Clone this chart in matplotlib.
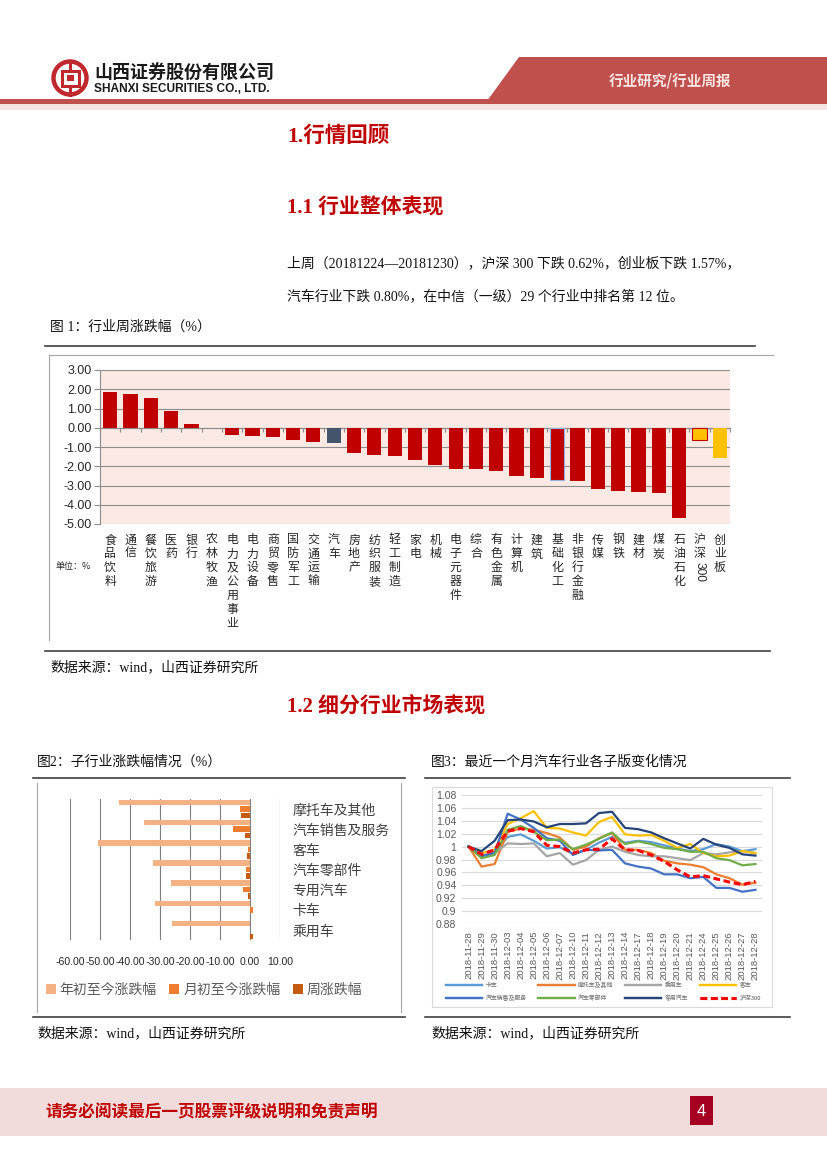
import matplotlib
matplotlib.use('Agg')
import matplotlib.pyplot as plt
import numpy as np
from matplotlib.patches import Rectangle, Polygon, Circle
import matplotlib.transforms as mtransforms

plt.rcParams['font.family'] = ['Noto Sans CJK SC', 'DejaVu Sans']

# ---------------- data ----------------
industries = ['食品饮料', '通信', '餐饮旅游', '医药', '银行', '农林牧渔', '电力及公用事业', '电力设备',
              '商贸零售', '国防军工', '交通运输', '汽车', '房地产', '纺织服装', '轻工制造', '家电',
              '机械', '电子元器件', '综合', '有色金属', '计算机', '建筑', '基础化工', '非银行金融',
              '传媒', '钢铁', '建材', '煤炭', '石油石化', '沪深300', '创业板']
weekly_change = [1.87, 1.75, 1.56, 0.85, 0.22, 0.01, -0.38, -0.43,
                 -0.49, -0.62, -0.75, -0.80, -1.33, -1.41, -1.45, -1.67,
                 -1.96, -2.13, -2.16, -2.26, -2.49, -2.61, -2.71, -2.77,
                 -3.20, -3.29, -3.34, -3.39, -4.69, -0.62, -1.57]
fig1_yticks = [3, 2, 1, 0, -1, -2, -3, -4, -5]

sub_industries = ['摩托车及其他', '汽车销售及服务', '客车', '汽车零部件', '专用汽车', '卡车', '乘用车']
ytd_change = [-43.6, -35.3, -50.7, -32.2, -26.3, -31.6, -26.0]
mtd_change = [-3.4, -5.7, -0.6, -1.3, -2.3, 0.9, 0.05]
week_change = [-3.1, -1.7, -1.1, -1.3, -0.6, 0.05, 0.9]
fig2_xticks = [-60, -50, -40, -30, -20, -10, 0, 10]
fig2_series_names = ['年初至今涨跌幅', '月初至今涨跌幅', '周涨跌幅']

dates = ['2018-11-28', '2018-11-29', '2018-11-30', '2018-12-03', '2018-12-04', '2018-12-05',
         '2018-12-06', '2018-12-07', '2018-12-10', '2018-12-11', '2018-12-12', '2018-12-13',
         '2018-12-14', '2018-12-17', '2018-12-18', '2018-12-19', '2018-12-20', '2018-12-21',
         '2018-12-24', '2018-12-25', '2018-12-26', '2018-12-27', '2018-12-28']
truck = [1.000, 0.986, 0.991, 1.015, 1.019, 1.009, 0.997, 0.999, 0.989, 0.995, 1.006, 1.015,
         1.006, 1.009, 1.007, 1.002, 0.997, 0.993, 0.996, 1.004, 1.000, 0.993, 0.996]
motorcycle = [1.000, 0.969, 0.973, 1.023, 1.028, 1.026, 1.021, 1.014, 0.995, 1.000, 1.013, 1.021,
              0.995, 0.995, 0.990, 0.978, 0.974, 0.972, 0.968, 0.957, 0.951, 0.941, 0.944]
passenger = [1.000, 0.986, 0.990, 1.005, 1.004, 1.005, 0.985, 0.990, 0.972, 0.979, 0.995, 1.000,
             0.992, 0.987, 0.985, 0.985, 0.982, 0.979, 0.990, 0.988, 0.991, 0.993, 0.990]
bus = [1.000, 0.990, 0.995, 1.035, 1.044, 1.055, 1.029, 1.028, 1.022, 1.017, 1.038, 1.046,
       1.019, 1.017, 1.018, 1.009, 0.998, 1.004, 0.990, 0.985, 0.986, 0.993, 0.990]
auto_sales = [1.000, 0.985, 0.990, 1.051, 1.042, 1.029, 1.013, 1.009, 0.987, 0.995, 0.994, 0.995,
              0.974, 0.969, 0.966, 0.957, 0.957, 0.951, 0.953, 0.936, 0.936, 0.930, 0.933]
auto_parts = [1.000, 0.982, 0.987, 1.026, 1.032, 1.023, 1.010, 1.011, 0.996, 1.003, 1.012, 1.022,
              1.004, 1.008, 1.004, 0.998, 0.996, 0.992, 0.992, 0.982, 0.979, 0.971, 0.973]
special_vehicle = [1.000, 0.993, 1.009, 1.041, 1.042, 1.039, 1.030, 1.035, 1.035, 1.036, 1.052, 1.054,
                   1.029, 1.027, 1.022, 1.013, 1.005, 0.997, 1.012, 1.003, 0.998, 0.988, 0.986]
hs300 = [1.000, 0.988, 0.995, 1.024, 1.028, 1.023, 1.002, 1.000, 0.990, 0.995, 0.996, 1.012,
         0.995, 0.994, 0.987, 0.977, 0.964, 0.953, 0.955, 0.950, 0.945, 0.941, 0.946]
fig3_yticks = [0.88, 0.90, 0.92, 0.94, 0.96, 0.98, 1.00, 1.02, 1.04, 1.06, 1.08]

# ---------------- page ----------------
W, H = 827, 1169
fig = plt.figure(figsize=(W / 100, H / 100), dpi=100)
fig.patch.set_facecolor('white')


def box(x0, y0, x1, y1):
    return [x0 / W, 1 - y1 / H, (x1 - x0) / W, (y1 - y0) / H]


bg = fig.add_axes([0, 0, 1, 1])
bg.set_xlim(0, W)
bg.set_ylim(H, 0)
bg.axis('off')

RED = '#c00000'
SERIF = ['Liberation Serif', 'Noto Sans CJK SC']
SANS = ['Liberation Sans', 'Noto Sans CJK SC']

# header
bg.add_patch(Polygon([(487, 101), (519, 57), (827, 57), (827, 101)], closed=True,
                     fc='#c0504d', ec='none'))
bg.add_patch(Rectangle((0, 99), W, 5, fc='#c0504d', ec='none'))
bg.add_patch(Rectangle((0, 104), W, 6, fc='#f3e4e4', ec='none'))
bg.text(670, 80, '行业研究/行业周报', color='#fbe6e3', fontsize=10.5, fontweight='bold',
        ha='center', va='center')
# logo
bg.add_patch(Circle((70, 78), 16.5, fc='none', ec='#c0282d', lw=3.2))
bg.add_patch(Rectangle((61.5, 70.5), 17, 15, fc='none', ec='#c0282d', lw=2.2))
bg.add_patch(Rectangle((66.5, 75), 7, 6, fc='#c0282d', ec='none'))
bg.plot([70, 70], [61, 70.5], color='#c0282d', lw=2.2)
bg.plot([70, 70], [85.5, 95], color='#c0282d', lw=2.2)
bg.text(94, 73, '山西证券股份有限公司', fontsize=13, fontweight='bold', color='#1a1a1a',
        ha='left', va='center')
bg.text(94, 89, 'SHANXI SECURITIES CO., LTD.', fontsize=8.6, fontweight='bold', color='#1a1a1a',
        ha='left', va='center', family=['Liberation Sans', 'DejaVu Sans'])

# section titles and paragraph
bg.text(287, 137, '1.行情回顾', color=RED, fontsize=15.5, fontweight='bold', family=SERIF,
        ha='left', va='center')
bg.text(287, 208, '1.1 行业整体表现', color=RED, fontsize=15, fontweight='bold', family=SERIF,
        ha='left', va='center')
bg.text(287, 263, '上周（20181224—20181230），沪深 300 下跌 0.62%，创业板下跌 1.57%，',
        fontsize=10, family=SERIF, ha='left', va='center', color='#111111')
bg.text(287, 296, '汽车行业下跌 0.80%，在中信（一级）29 个行业中排名第 12 位。',
        fontsize=10, family=SERIF, ha='left', va='center', color='#111111')
bg.text(50, 327, '图 1：行业周涨跌幅（%）', fontsize=10, family=SERIF, ha='left', va='center',
        color='#111111')
bg.plot([45, 755], [346, 346], color='#404040', lw=1.2)
bg.plot([49, 773], [355, 355], color='#a6a6a6', lw=0.8)
bg.plot([49, 49], [355, 640], color='#a6a6a6', lw=0.8)
bg.plot([45, 770], [651, 651], color='#404040', lw=1.2)
bg.text(50, 667, '数据来源：wind，山西证券研究所', fontsize=10, family=SERIF, ha='left',
        va='center', color='#111111')
bg.text(287, 706, '1.2 细分行业市场表现', color=RED, fontsize=15, fontweight='bold', family=SERIF,
        ha='left', va='center')
bg.text(37, 762, '图2：子行业涨跌幅情况（%）', fontsize=10, family=SERIF, ha='left', va='center',
        color='#111111')
bg.text(431, 762, '图3：最近一个月汽车行业各子版变化情况', fontsize=10, family=SERIF, ha='left',
        va='center', color='#111111')
bg.plot([33, 405], [778, 778], color='#404040', lw=1.2)
bg.plot([425, 790], [778, 778], color='#404040', lw=1.2)
bg.plot([37, 37], [783, 1012], color='#a6a6a6', lw=0.8)
bg.plot([401, 401], [783, 1012], color='#a6a6a6', lw=0.8)
bg.add_patch(Rectangle((432, 787), 340, 220, fc='none', ec='#d9d9d9', lw=0.8))
bg.plot([33, 405], [1017, 1017], color='#404040', lw=1.2)
bg.plot([425, 790], [1017, 1017], color='#404040', lw=1.2)
bg.text(37, 1033, '数据来源：wind，山西证券研究所', fontsize=10, family=SERIF, ha='left',
        va='center', color='#111111')
bg.text(431, 1033, '数据来源：wind，山西证券研究所', fontsize=10, family=SERIF, ha='left',
        va='center', color='#111111')

# footer
bg.add_patch(Rectangle((0, 1088), W, 48, fc='#f2dcdb', ec='none'))
bg.text(45, 1112, '请务必阅读最后一页股票评级说明和免责声明', color=RED, fontsize=12,
        fontweight='bold', ha='left', va='center')
bg.add_patch(Rectangle((690, 1096), 23, 29, fc='#a50021', ec='none'))
bg.text(701.5, 1111, '4', color='white', fontsize=12, ha='center', va='center',
        family=['Liberation Sans'])

# ---------------- figure 1: weekly industry change ----------------
ax1 = fig.add_axes(box(100, 370, 730, 524))
ax1.set_facecolor('#fbe9e4')
x1 = np.arange(len(industries))
special = {'汽车': '#44546a', '沪深300': '#ffc000', '创业板': '#ffc000'}
colors1 = [special.get(c, RED) for c in industries]
edges1 = ['#c00000' if c == '沪深300' else ('#8eb4e3' if c == '基础化工' else 'none')
          for c in industries]
ax1.bar(x1, weekly_change, width=0.7, color=colors1, edgecolor=edges1, linewidth=0.8, zorder=3)
ax1.set_xlim(-0.5, len(industries) - 0.5)
ax1.set_ylim(-5, 3)
ax1.set_yticks(fig1_yticks)
ax1.set_yticklabels(['%.2f' % v for v in fig1_yticks], family=SANS, fontsize=9, color='#262626')
ax1.grid(axis='y', color='#8c8c8c', lw=0.8, zorder=1)
ax1.tick_params(axis='y', length=4, color='#8c8c8c', pad=2)
for s in ['top', 'right']:
    ax1.spines[s].set_visible(False)
ax1.spines['left'].set_color('#8c8c8c')
ax1.spines['left'].set_linewidth(0.8)
ax1.spines['bottom'].set_position(('data', 0))
ax1.spines['bottom'].set_color('#8c8c8c')
ax1.spines['bottom'].set_linewidth(0.8)
ax1.set_xticks(np.arange(-0.5, len(industries), 1.0))
ax1.set_xticklabels([])
ax1.tick_params(axis='x', length=3, color='#8c8c8c', direction='out')

blend1 = mtransforms.blended_transform_factory(ax1.transData, bg.transData)
for i, name in enumerate(industries):
    y = 540
    j = 0
    while j < len(name):
        ch = name[j]
        if ch.isascii():
            run = ''
            while j < len(name) and name[j].isascii():
                run += name[j]
                j += 1
            bg.text(i, y - 6, run, transform=blend1, rotation=-90, ha='center', va='top',
                    fontsize=8.6, color='#262626', family=SANS)
            y += 14 * len(run)
        else:
            bg.text(i, y, ch, transform=blend1, ha='center', va='center', fontsize=8.6,
                    color='#262626')
            y += 13.9
            j += 1
bg.text(73, 567, '单位：%', fontsize=6.5, color='#262626', ha='center', va='center')

# ---------------- figure 2: sub-industry change ----------------
ax2 = fig.add_axes(box(70, 799, 280, 940))
y2 = np.arange(len(sub_industries))
h = 0.27
c2 = ['#f4b183', '#ed7d31', '#c55a11']
b_ytd = ax2.barh(y2 - 0.32, ytd_change, height=h, color=c2[0], zorder=3)
b_mtd = ax2.barh(y2, mtd_change, height=h, color=c2[1], zorder=3)
b_wk = ax2.barh(y2 + 0.32, week_change, height=h, color=c2[2], zorder=3)
ax2.set_xlim(-60, 10)
ax2.set_ylim(len(sub_industries) - 0.5, -0.5)
ax2.set_xticks(fig2_xticks)
ax2.set_xticklabels(['%.2f' % v for v in fig2_xticks], family=SANS, fontsize=7.6, color='#262626')
ax2.tick_params(axis='x', length=0, pad=12)
ax2.grid(axis='x', color='#7f7f7f', lw=0.8, zorder=1)
ax2.yaxis.tick_right()
ax2.set_yticks(y2)
ax2.set_yticklabels(sub_industries, fontsize=10, color='#404040')
ax2.tick_params(axis='y', length=0, pad=9)
for s in ax2.spines.values():
    s.set_visible(False)
leg2 = bg.legend([b_ytd, b_mtd, b_wk], fig2_series_names, loc='center',
                 bbox_to_anchor=(204, 990), bbox_transform=bg.transData, ncol=3,
                 frameon=False, fontsize=10, handlelength=0.7, handleheight=0.7,
                 handletextpad=0.3, columnspacing=0.9, borderpad=0)
for t in leg2.get_texts():
    t.set_color('#595959')
bg.add_artist(leg2)

# ---------------- figure 3: sub-index lines ----------------
ax3 = fig.add_axes(box(462, 795, 762, 924))
x3 = np.arange(len(dates))
series3 = [
    ('卡车', truck, '#5b9bd5', '-'),
    ('摩托车及其他', motorcycle, '#ed7d31', '-'),
    ('乘用车', passenger, '#a5a5a5', '-'),
    ('客车', bus, '#ffc000', '-'),
    ('汽车销售及服务', auto_sales, '#4472c4', '-'),
    ('汽车零部件', auto_parts, '#70ad47', '-'),
    ('专用汽车', special_vehicle, '#264478', '-'),
    ('沪深300', hs300, '#ff0000', '--'),
]
handles = {}
for name, vals, col, ls in series3:
    if ls == '--':
        ln, = ax3.plot(x3, vals, color=col, lw=2.2, ls=(0, (2.2, 1.2)), zorder=5)
    else:
        ln, = ax3.plot(x3, vals, color=col, lw=1.6, zorder=3)
    handles[name] = ln
ax3.set_xlim(-0.5, len(dates) - 0.5)
ax3.set_ylim(0.88, 1.08)
ax3.set_yticks(fig3_yticks)
ax3.set_yticklabels(['%g' % v for v in fig3_yticks], family=SANS, fontsize=7.5, color='#595959')
ax3.set_xticks(x3)
ax3.set_xticklabels(dates, rotation=90, family=SANS, fontsize=6.8, color='#595959',
                    ha='center', va='top')
ax3.tick_params(length=0, pad=4)
ax3.tick_params(axis='x', pad=5)
ax3.grid(axis='y', color='#d9d9d9', lw=0.8, zorder=0)
for s in ax3.spines.values():
    s.set_visible(False)
order = ['卡车', '汽车销售及服务', '摩托车及其他', '汽车零部件', '乘用车', '专用汽车', '客车', '沪深300']
leg3 = bg.legend([handles[n] for n in order], order, loc='upper left',
                 bbox_to_anchor=(443, 979), bbox_transform=bg.transData, ncol=4,
                 frameon=False, fontsize=4.2, handlelength=6.2, handletextpad=0.6,
                 columnspacing=2.0, labelspacing=1.2, borderpad=0)
for t in leg3.get_texts():
    t.set_color('#8c8c8c')
bg.add_artist(leg3)

fig.savefig('out.png', dpi=100, facecolor='white')
